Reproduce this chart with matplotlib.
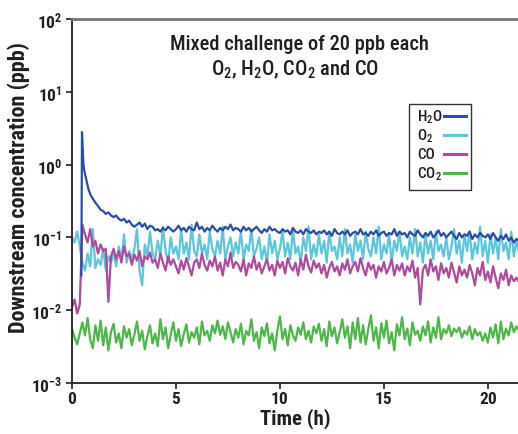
import matplotlib
matplotlib.use("Agg")
import matplotlib.pyplot as plt
from matplotlib import font_manager
from matplotlib.patches import Rectangle
import numpy as np

# pick a condensed sans if there is one
installed = {f.name for f in font_manager.fontManager.ttflist}
fam = 'Liberation Sans'
for cand in ['Liberation Sans Narrow', 'Roboto Condensed', 'Open Sans Condensed', 'Noto Sans Condensed']:
    if cand in installed:
        fam = cand
        break
narrow = fam != 'Liberation Sans'

plt.rcParams['font.family'] = [fam, 'DejaVu Sans']
plt.rcParams['mathtext.fontset'] = 'custom'
plt.rcParams['mathtext.rm'] = fam
plt.rcParams['mathtext.bf'] = fam + ':bold'

# sampling step of the logged data (h)
step = 0.125

# O2, CO, CO2 sampled from t = 0
o2 = [0.10, 0.085, 0.12, 0.075, 0.045, 0.035, 0.06, 0.04,
      0.13, 0.038, 0.05, 0.042, 0.07, 0.035, 0.055, 0.045,
      0.06, 0.04, 0.075, 0.048, 0.11, 0.045, 0.065, 0.05,
      0.07, 0.13, 0.035, 0.022, 0.08, 0.055, 0.12, 0.06,
      0.05, 0.09, 0.055, 0.14, 0.065, 0.045, 0.10, 0.06,
      0.075, 0.05, 0.13, 0.06, 0.085, 0.05, 0.15, 0.065,
      0.055, 0.11, 0.06, 0.08, 0.05, 0.12, 0.07, 0.055,
      0.09, 0.06, 0.14, 0.05, 0.075, 0.10, 0.055, 0.085,
      0.06, 0.12, 0.05, 0.08, 0.065, 0.13, 0.055, 0.07,
      0.10, 0.05, 0.075, 0.045, 0.11, 0.06, 0.09, 0.05,
      0.07, 0.12, 0.055, 0.085, 0.05, 0.13, 0.06, 0.075,
      0.045, 0.10, 0.065, 0.14, 0.05, 0.08, 0.055, 0.11,
      0.06, 0.09, 0.045, 0.12, 0.065, 0.075, 0.05, 0.10,
      0.055, 0.13, 0.06, 0.08, 0.045, 0.11, 0.065, 0.09,
      0.05, 0.12, 0.07, 0.055, 0.10, 0.06, 0.14, 0.05,
      0.08, 0.06, 0.11, 0.045, 0.09, 0.065, 0.12, 0.055,
      0.075, 0.05, 0.10, 0.06, 0.13, 0.055, 0.085, 0.045,
      0.11, 0.06, 0.09, 0.05, 0.12, 0.065, 0.08, 0.055,
      0.10, 0.05, 0.075, 0.13, 0.06, 0.09, 0.045, 0.11,
      0.065, 0.12, 0.05, 0.085, 0.06, 0.14, 0.055, 0.09,
      0.045, 0.11, 0.06, 0.10, 0.05, 0.13, 0.065, 0.085,
      0.05, 0.12, 0.055, 0.09, 0.06]

co = [0.011, 0.014, 0.009, 0.012, 0.15, 0.11, 0.085, 0.13,
      0.075, 0.09, 0.06, 0.08, 0.065, 0.07, 0.013, 0.055,
      0.07, 0.05, 0.065, 0.045, 0.075, 0.055, 0.06, 0.042,
      0.058, 0.048, 0.065, 0.04, 0.055, 0.05, 0.062, 0.045,
      0.05, 0.038, 0.06, 0.045, 0.035, 0.055, 0.042, 0.05,
      0.04, 0.032, 0.048, 0.036, 0.052, 0.04, 0.03, 0.045,
      0.05, 0.038, 0.06, 0.042, 0.035, 0.048, 0.04, 0.055,
      0.035, 0.045, 0.03, 0.05, 0.04, 0.062, 0.038, 0.046,
      0.042, 0.034, 0.05, 0.03, 0.044, 0.038, 0.055, 0.036,
      0.045, 0.032, 0.04, 0.05, 0.035, 0.042, 0.03, 0.048,
      0.038, 0.046, 0.032, 0.052, 0.04, 0.035, 0.045, 0.03,
      0.05, 0.036, 0.058, 0.04, 0.033, 0.048, 0.038, 0.044,
      0.032, 0.042, 0.028, 0.038, 0.046, 0.034, 0.04, 0.03,
      0.044, 0.036, 0.05, 0.032, 0.04, 0.046, 0.034, 0.052,
      0.038, 0.03, 0.045, 0.036, 0.042, 0.028, 0.04, 0.034,
      0.046, 0.032, 0.038, 0.05, 0.03, 0.042, 0.035, 0.044,
      0.03, 0.04, 0.034, 0.048, 0.028, 0.038, 0.012, 0.036,
      0.042, 0.03, 0.05, 0.034, 0.04, 0.026, 0.044, 0.032,
      0.038, 0.028, 0.045, 0.033, 0.024, 0.04, 0.03, 0.036,
      0.028, 0.042, 0.032, 0.022, 0.038, 0.03, 0.046, 0.026,
      0.034, 0.024, 0.04, 0.028, 0.02, 0.032, 0.026, 0.036,
      0.022, 0.03, 0.025, 0.028, 0.024]

co2 = [0.0055, 0.0042, 0.0034, 0.0048, 0.0068, 0.0045, 0.0078, 0.0040,
       0.0030, 0.0062, 0.0038, 0.0072, 0.0033, 0.0058, 0.0028, 0.0050,
       0.0065, 0.0036, 0.0048, 0.0030, 0.0060, 0.0042, 0.0055, 0.0033,
       0.0046, 0.0070, 0.0038, 0.0052, 0.0029, 0.0044, 0.0062, 0.0035,
       0.0048, 0.0032, 0.0075, 0.0040, 0.0058, 0.0030, 0.0046, 0.0068,
       0.0038, 0.0055, 0.0032, 0.0047, 0.0064, 0.0036, 0.0050, 0.0042,
       0.0058, 0.0034, 0.0070, 0.0045, 0.0052, 0.0038, 0.0062, 0.0048,
       0.0072, 0.0046, 0.0060, 0.0040, 0.0068, 0.0050, 0.0036, 0.0055,
       0.0042, 0.0065, 0.0034, 0.0052, 0.0045, 0.0075, 0.0038, 0.0050,
       0.0030, 0.0058, 0.0044, 0.0066, 0.0035, 0.0048, 0.0028, 0.0052,
       0.0082, 0.0040, 0.0055, 0.0033, 0.0062, 0.0045, 0.0038, 0.0058,
       0.0046, 0.0068, 0.0040, 0.0052, 0.0036, 0.0060, 0.0048, 0.0065,
       0.0038, 0.0055, 0.0032, 0.0070, 0.0044, 0.0058, 0.0035, 0.0050,
       0.0075, 0.0042, 0.0060, 0.0030, 0.0068, 0.0040, 0.0078, 0.0036,
       0.0062, 0.0034, 0.0055, 0.0085, 0.0038, 0.0058, 0.0030, 0.0066,
       0.0042, 0.0072, 0.0035, 0.0050, 0.0028, 0.0064, 0.0045, 0.0080,
       0.0040, 0.0056, 0.0033, 0.0068, 0.0046, 0.0052, 0.0038, 0.0060,
       0.0045, 0.0070, 0.0036, 0.0058, 0.0042, 0.0080, 0.0040, 0.0055,
       0.0048, 0.0062, 0.0044, 0.0056, 0.0050, 0.0058, 0.0042, 0.0052,
       0.0046, 0.0060, 0.0040, 0.0055, 0.0045, 0.0050, 0.0038, 0.0048,
       0.0036, 0.0058, 0.0042, 0.0064, 0.0035, 0.0070, 0.0040, 0.0056,
       0.0045, 0.0068, 0.0050, 0.0060, 0.0052]

# H2O: breakthrough spike, then sampled from t = 1.0
h2o_head_time = [0.45, 0.48, 0.55, 0.60, 0.70, 0.80, 0.90]
h2o_head = [0.03, 2.8, 1.0, 0.8, 0.6, 0.45, 0.38]
h2o_start = 1.0
h2o = [0.34, 0.3, 0.27, 0.24, 0.23, 0.21, 0.22, 0.2,
       0.19, 0.2, 0.18, 0.17, 0.18, 0.16, 0.17, 0.15,
       0.14, 0.15, 0.16, 0.14, 0.155, 0.13, 0.145, 0.14,
       0.125, 0.13, 0.12, 0.135, 0.125, 0.14, 0.13, 0.12,
       0.13, 0.145, 0.125, 0.135, 0.12, 0.14, 0.13, 0.125,
       0.16, 0.13, 0.14, 0.12, 0.135, 0.125, 0.145, 0.13,
       0.12, 0.135, 0.125, 0.14, 0.13, 0.15, 0.125, 0.135,
       0.13, 0.12, 0.14, 0.125, 0.135, 0.12, 0.13, 0.14,
       0.125, 0.115, 0.13, 0.12, 0.14, 0.125, 0.13, 0.12,
       0.115, 0.13, 0.12, 0.125, 0.11, 0.135, 0.12, 0.115,
       0.125, 0.11, 0.13, 0.12, 0.115, 0.125, 0.11, 0.12,
       0.115, 0.125, 0.11, 0.12, 0.105, 0.13, 0.115, 0.11,
       0.12, 0.11, 0.125, 0.105, 0.115, 0.12, 0.11, 0.13,
       0.11, 0.115, 0.105, 0.12, 0.11, 0.125, 0.105, 0.115,
       0.12, 0.105, 0.115, 0.11, 0.13, 0.105, 0.12, 0.11,
       0.115, 0.1, 0.12, 0.11, 0.105, 0.125, 0.11, 0.1,
       0.115, 0.105, 0.12, 0.1, 0.11, 0.125, 0.105, 0.115,
       0.1, 0.11, 0.12, 0.105, 0.095, 0.115, 0.1, 0.11,
       0.105, 0.12, 0.095, 0.11, 0.1, 0.115, 0.105, 0.1,
       0.11, 0.095, 0.115, 0.1, 0.09, 0.105, 0.095, 0.11,
       0.09, 0.1, 0.085, 0.095, 0.09]

c_h2o = '#2a4ea6'
c_o2 = '#5cc6dc'
c_co = '#b04a9c'
c_co2 = '#4cb848'
txt = '#231f20'

# font sizes: condensed face fits larger sizes
k = 1.0 if narrow else 0.85
fs_title = 14.8 * k
fs_tick = 12.5 * k
fs_xlabel = 15 * k
fs_ylabel = 16 * k
fs_leg = 11 * k

t = np.arange(len(o2)) * step
t_h2o = np.concatenate([h2o_head_time, h2o_start + np.arange(len(h2o)) * step])
v_h2o = np.concatenate([h2o_head, h2o])

fig = plt.figure(figsize=(5.18, 4.35), dpi=100)
ax = fig.add_axes([72 / 518, 1 - 384 / 435, 446 / 518, 364 / 435])

lw = 1.6
ax.plot(t, o2, color=c_o2, lw=lw)
ax.plot(t, co, color=c_co, lw=lw)
ax.plot(t_h2o, v_h2o, color=c_h2o, lw=lw)
ax.plot(t, co2, color=c_co2, lw=lw)

ax.set_yscale('log')
ax.set_ylim(1e-3, 1e2)
ax.set_xlim(0, 21.45)
ax.set_xticks([0, 5, 10, 15, 20])
ax.set_yticks([1e-3, 1e-2, 1e-1, 1e0, 1e1, 1e2])
ax.set_yticklabels([r'$\mathbf{10^{-3}}$', r'$\mathbf{10^{-2}}$', r'$\mathbf{10^{-1}}$',
                    r'$\mathbf{10^{0}}$', r'$\mathbf{10^{1}}$', r'$\mathbf{10^{2}}$'])
ax.minorticks_off()
ax.tick_params(axis='both', direction='out', length=4, width=1.2, colors=txt,
               labelsize=fs_tick)
ax.tick_params(axis='x', pad=2)
ax.tick_params(axis='y', pad=3)
for lab in ax.get_xticklabels():
    lab.set_fontweight('bold')

ax.spines['right'].set_visible(False)
ax.spines['top'].set_color('#777777')
ax.spines['top'].set_linewidth(2)
ax.spines['left'].set_linewidth(1.3)
ax.spines['bottom'].set_linewidth(1.3)
ax.spines['left'].set_color(txt)
ax.spines['bottom'].set_color(txt)

ax.set_xlabel('Time (h)', fontsize=fs_xlabel, fontweight='bold', color=txt, labelpad=1)
ax.set_ylabel('Downstream concentration (ppb)', fontsize=fs_ylabel, fontweight='bold',
              color=txt)
ax.yaxis.set_label_coords(-0.094, 0.54)

# annotation
ax.text(0.51, 0.932, 'Mixed challenge of 20 ppb each', transform=ax.transAxes,
        ha='center', va='center', fontsize=fs_title, fontweight='medium', color=txt)
ax.text(0.50, 0.862, r'O$\mathregular{_2}$, H$\mathregular{_2}$O, CO$\mathregular{_2}$ and CO',
        transform=ax.transAxes, ha='center', va='center', fontsize=fs_title,
        fontweight='medium', color=txt)

# legend: labels left, line samples right
ax.add_patch(Rectangle((0.756, 0.530), 0.139, 0.236, transform=ax.transAxes,
                       fill=False, edgecolor='#333333', lw=1.0))
leg_labels = [r'H$\mathregular{_2}$O', r'O$\mathregular{_2}$', 'CO', r'CO$\mathregular{_2}$']
leg_colors = [c_h2o, c_o2, c_co, c_co2]
leg_y = [0.734, 0.681, 0.629, 0.577]
for lab, col, yy in zip(leg_labels, leg_colors, leg_y):
    ax.text(0.7735, yy, lab, transform=ax.transAxes, ha='left', va='center',
            fontsize=fs_leg, fontweight='medium', color=txt)
    ax.plot([0.834, 0.883], [yy, yy], transform=ax.transAxes, color=col, lw=2.2)

fig.savefig('out.png', dpi=100)
